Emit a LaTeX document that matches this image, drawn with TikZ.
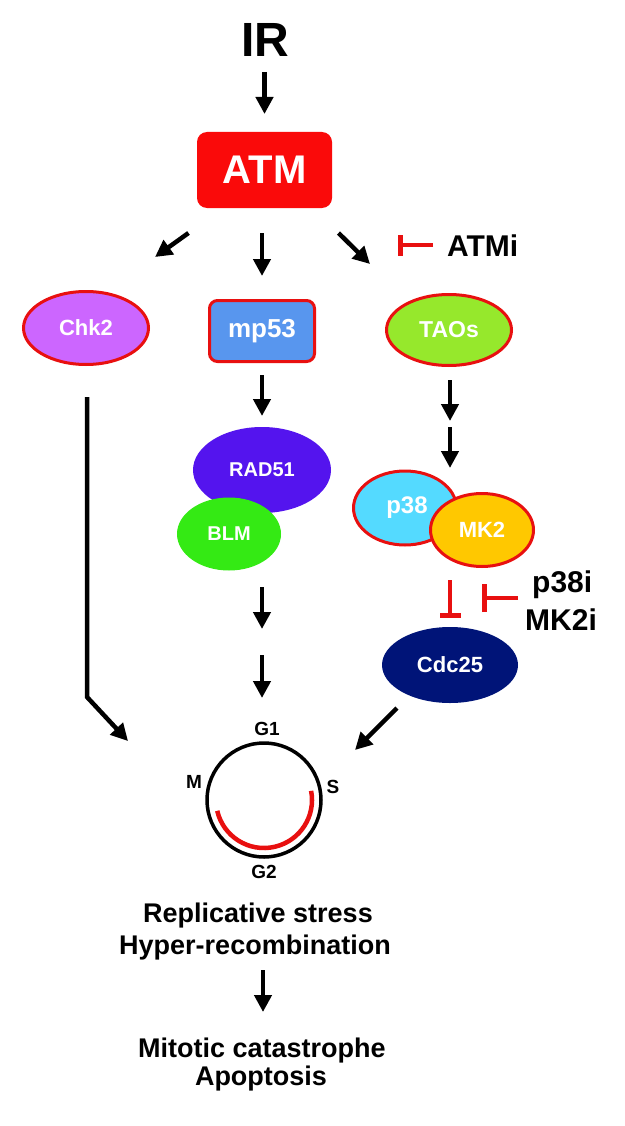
\documentclass[tikz,border=0pt]{standalone}
\usepackage{fontspec}
\setmainfont{Liberation Sans}
\usetikzlibrary{arrows.meta,shapes.geometric,calc}
\newcommand\myfs[1]{\fontsize{#1}{#1}\selectfont\bfseries}
\definecolor{atmred}{RGB}{250,10,10}
\definecolor{bordred}{RGB}{232,16,16}
\definecolor{chkcol}{RGB}{204,102,255}
\definecolor{mpcol}{RGB}{88,150,238}
\definecolor{taocol}{RGB}{150,232,44}
\definecolor{radcol}{RGB}{84,20,238}
\definecolor{blmcol}{RGB}{52,234,20}
\definecolor{p38col}{RGB}{84,218,255}
\definecolor{mk2col}{RGB}{255,200,0}
\definecolor{cdccol}{RGB}{0,20,120}
\begin{document}
\begin{tikzpicture}[x=1pt,y=-1pt,
  arr/.style={line width=4.5pt,-{Triangle[length=17pt,width=17pt]}},
  inh/.style={draw=bordred,line width=4pt,-{Bar[width=21pt,line width=5pt]}},
  oval/.style={ellipse,inner sep=0pt,text=white},
  rimmed/.style={draw=bordred,line width=3pt},
  lbl/.style={inner sep=0pt}]
\useasboundingbox (0,0) rectangle (624,1126);
% top
\node[lbl,font=\myfs{48}] (IR) at (265,40) {IR};
\node[rectangle,rounded corners=10pt,fill=atmred,minimum width=135pt,minimum height=76pt,inner sep=0pt,text=white,font=\myfs{40}] (ATM) at (264.5,170) {ATM};
% second row
\node[oval,rimmed,fill=chkcol,minimum width=125pt,minimum height=73pt,font=\myfs{22}] (Chk2) at (86,328) {Chk2};
\node[rectangle,rounded corners=8pt,rimmed,fill=mpcol,minimum width=105pt,minimum height=61pt,inner sep=0pt,text=white,font=\myfs{26}] (mp53) at (262,331) {mp53};
\node[oval,rimmed,fill=taocol,minimum width=125pt,minimum height=71pt,font=\myfs{23}] (TAOs) at (449,330) {TAOs};
\node[lbl,anchor=base west,font=\myfs{30}] (ATMi) at (447,256) {ATMi};
% arrows from ATM
\draw[arr] ($(ATM.center)+(0,-98)$) -- ($(ATM.center)+(0,-56)$);
\draw[arr] ($(ATM.center)+(-76,63)$) -- ($(Chk2.center)+(69,-71)$);
\draw[arr] ($(mp53.center)+(0,-98)$) -- ($(mp53.center)+(0,-55)$);
\draw[arr] ($(ATM.center)+(74,63)$) -- ($(TAOs.center)+(-79,-66)$);
\draw[inh] ($(ATMi.base west)+(-14,-11)$) -- ($(TAOs.center)+(-51,-85)$);
% middle column
\node[oval,fill=radcol,minimum width=138pt,minimum height=86pt,font=\myfs{20}] (RAD51) at (262,470) {RAD51};
\node[oval,fill=blmcol,minimum width=104pt,minimum height=73pt,font=\myfs{20}] (BLM) at (229,534) {BLM};
\draw[arr] ($(RAD51.center)+(0,-95)$) -- ($(RAD51.center)+(0,-54)$);
\coordinate (b1s) at (262,587);
\coordinate (b1e) at (262,629);
\coordinate (b2s) at (262,655);
\coordinate (b2e) at (262,698);
\draw[arr] (b1s) -- (b1e);
\draw[arr] (b2s) -- (b2e);
% right column
\node[oval,rimmed,fill=p38col,minimum width=103pt,minimum height=74pt,font=\myfs{24}] (p38) at (405,508) {\hspace*{4pt}p38};
\node[oval,rimmed,fill=mk2col,minimum width=103pt,minimum height=73pt,font=\myfs{22}] (MK2) at (482,530) {MK2};
\coordinate (t1e) at (450,421);
\coordinate (t2s) at (450,427);
\draw[arr] ($(TAOs.center)+(1,50)$) -- (t1e);
\draw[arr] (t2s) -- ($(p38.center)+(45,-40)$);
\node[oval,fill=cdccol,minimum width=136pt,minimum height=76pt,font=\myfs{22}] (Cdc25) at (450,665) {Cdc25};
\draw[inh] ($(MK2.center)+(-32,50)$) -- ($(Cdc25.center)+(0,-47)$);
\node[lbl,anchor=base west,font=\myfs{30}] (p38i) at (532,592) {p38i};
\node[lbl,anchor=base west,font=\myfs{30}] (MK2i) at (525,630) {MK2i};
\draw[inh,-{Bar[width=28pt,line width=5pt]}] ($(p38i.base west)+(-14,6)$) -- ($(Cdc25.center)+(32,-67)$);
% cell cycle
\node[circle,draw,line width=3.5pt,minimum size=114pt,inner sep=0pt] (cyc) at (264,800) {};
\begin{scope}[shift={(cyc.center)},x=1pt,y=1pt]
  \draw[bordred,line width=4.5pt] (193:48) arc[start angle=193,end angle=371,radius=48];
\end{scope}
\node[lbl,font=\myfs{19}] (G1) at (267,729) {G1};
\node[lbl,font=\myfs{19}] (M) at (194,782) {M};
\node[lbl,font=\myfs{19}] (S) at (333,787) {S};
\node[lbl,font=\myfs{19}] (G2) at (264,872) {G2};
% connectors to cycle
\coordinate (chkbend) at (87,697);
\draw[arr] ($(Chk2.center)+(1,69)$) -- (chkbend) -- ($(cyc.center)+(-136,-59)$);
\draw[arr] ($(Cdc25.center)+(-53,43)$) -- ($(cyc.center)+(-173+264,-50)$);
% bottom
\node[lbl,anchor=base,font=\myfs{27}] (rep) at (258,922) {Replicative stress};
\node[lbl,anchor=base,font=\myfs{27}] (hyp) at (255,954) {Hyper-recombination};
\node[lbl,anchor=base,font=\myfs{27}] (mit) at (262,1057) {Mitotic catastrophe};
\node[lbl,anchor=base,font=\myfs{27}] (apo) at (261,1085) {Apoptosis};
\draw[arr] ($(hyp.base)+(8,16)$) -- ($(mit.base)+(1,-45)$);
\end{tikzpicture}
\end{document}
